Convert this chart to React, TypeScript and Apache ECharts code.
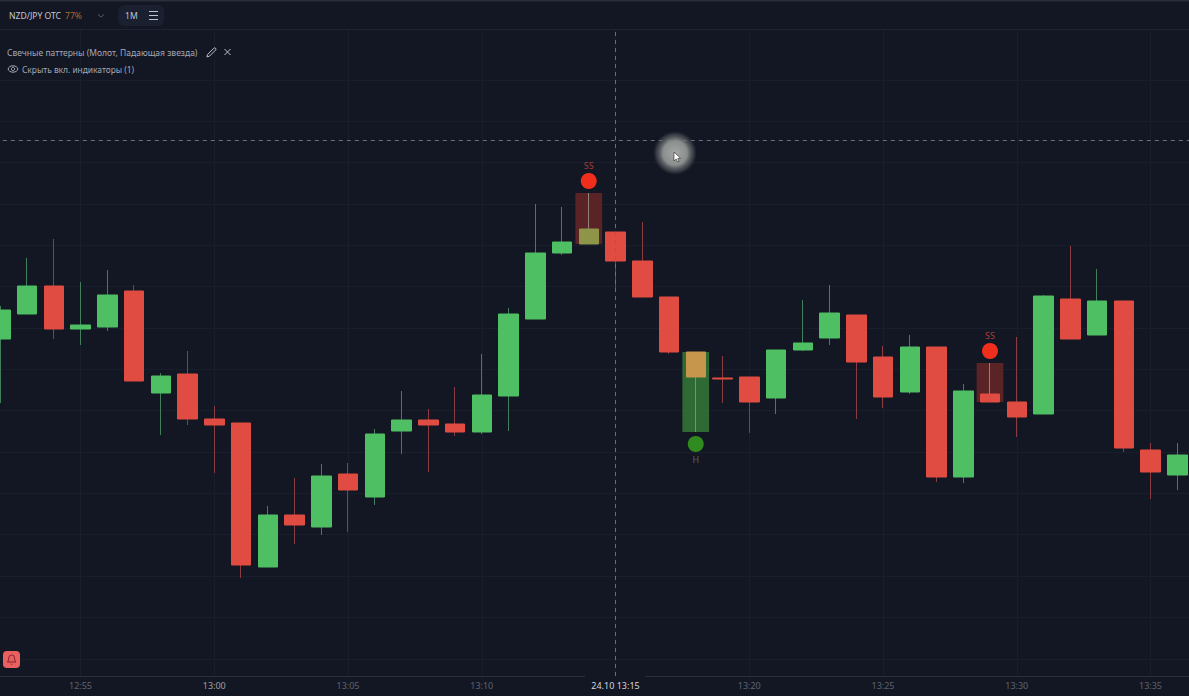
import React, { useEffect, useRef } from "react";
import * as echarts from "echarts";

const startMinute = 772; // 12:52
const opens = [91.661,91.686,91.714,91.671,91.673,91.709,91.607,91.626,91.581,91.577,91.433,91.485,91.473,91.526,91.503,91.569,91.580,91.576,91.568,91.604,91.681,91.747,91.756,91.768,91.739,91.703,91.648,91.622,91.623,91.602,91.650,91.662,91.685,91.643,91.608,91.653,91.523,91.606,91.598,91.586,91.701,91.665,91.699,91.550,91.525];
const closes = [91.690,91.714,91.671,91.675,91.705,91.619,91.624,91.581,91.575,91.435,91.485,91.475,91.524,91.510,91.566,91.580,91.575,91.568,91.605,91.686,91.747,91.758,91.771,91.739,91.703,91.648,91.623,91.621,91.598,91.650,91.657,91.687,91.638,91.603,91.653,91.523,91.609,91.598,91.583,91.704,91.661,91.699,91.552,91.528,91.545];
const lows = [91.597,91.686,91.661,91.655,91.669,91.619,91.565,91.575,91.527,91.422,91.433,91.456,91.465,91.468,91.495,91.546,91.528,91.564,91.566,91.569,91.681,91.745,91.756,91.709,91.703,91.646,91.568,91.597,91.567,91.586,91.649,91.655,91.581,91.592,91.606,91.518,91.517,91.598,91.563,91.586,91.661,91.665,91.548,91.501,91.510];
const highs = [91.694,91.742,91.761,91.718,91.730,91.715,91.627,91.649,91.594,91.577,91.494,91.522,91.536,91.537,91.571,91.609,91.591,91.613,91.646,91.692,91.796,91.793,91.807,91.768,91.778,91.703,91.648,91.644,91.623,91.650,91.700,91.715,91.685,91.654,91.665,91.653,91.616,91.637,91.663,91.705,91.754,91.731,91.699,91.557,91.557];

// pattern candles: minute, top of the highlight, bottom of the highlight, marker price, label
const patternMinutes = [794, 798, 809];
const patternTops = [91.807, 91.648, 91.637];
const patternBottoms = [91.756, 91.568, 91.598];
const patternMarkers = [91.819, 91.556, 91.649];
const patternLabels = ["SS", "H", "SS"];

const crosshairMinute = 795;
const crosshairPrice = 91.8615;

const GREEN = "#4fbf63";
const RED = "#e04c41";
const BG = "#131724";
const GRID = "#191e2d";

const pad = (n: number) => String(n).padStart(2, "0");
const timeLabel = (m: number) => `${pad(Math.floor(m / 60))}:${pad(m % 60)}`;

echarts.graphic.registerShape("bellIcon", echarts.graphic.extendPath("M6 8a6 6 0 0 1 12 0c0 7 3 9 3 9H3s3-2 3-9M10.3 21a1.94 1.94 0 0 0 3.4 0", {}));
echarts.graphic.registerShape("pencilIcon", echarts.graphic.extendPath("M17 3a2.85 2.83 0 1 1 4 4L7.5 20.5 2 22l1.5-5.5Z", {}));
echarts.graphic.registerShape("cursorIcon", echarts.graphic.extendPath("M0 0L0 9L2.2 7L3.6 10L5 9.3L3.7 6.5L6.5 6.3Z", {}));

const txt = (text: string, x: number, y: number, fill: string, size: number, extra: any = {}) => ({
  type: "text",
  x,
  y,
  z: 20,
  style: { text, fill, font: `${size}px "Noto Sans"`, verticalAlign: "middle", ...extra },
});
const seg = (x1: number, y1: number, x2: number, y2: number, stroke: string, lineWidth = 1) => ({
  type: "line",
  z: 20,
  shape: { x1, y1, x2, y2 },
  style: { stroke, lineWidth },
});

export default function App() {
  const ref = useRef<HTMLDivElement>(null);
  useEffect(() => {
    document.body.style.margin = "0";
    document.body.style.background = BG;

    const chart = echarts.init(ref.current!, null, { renderer: "svg", width: 1189, height: 696 });

    const wickData = opens.map((o, i) => {
      const m = startMinute + i;
      const isPattern = patternMinutes.includes(m);
      const v = [m, o, closes[i], lows[i], highs[i]];
      return isPattern
        ? { value: v, itemStyle: { borderColor: "#8f8278", borderColor0: "#8f8278", color: "#8f8278", color0: "#8f8278" } }
        : { value: v };
    });
    const bodyData = opens.map((o, i) => {
      const m = startMinute + i;
      const c = closes[i];
      const v = [m, o, c, Math.min(o, c), Math.max(o, c)];
      if (m === 794) return { value: v, itemStyle: { color: "#8f9548", borderColor: "#8f9548" } };
      if (m === 798) return { value: v, itemStyle: { color0: "#c6964c", borderColor0: "#c6964c" } };
      return { value: v };
    });

    chart.setOption({
      animation: false,
      backgroundColor: BG,
      grid: [
        { left: -53.25, top: 29, width: 1337.5, height: 647, containLabel: false, outerBoundsMode: "none" },
        { left: 0, top: 80, width: 1189, height: 578.75, containLabel: false, outerBoundsMode: "none" },
      ],
      xAxis: [
        {
          type: "value",
          gridIndex: 0,
          min: 770,
          max: 820,
          interval: 5,
          axisLine: { show: false },
          axisTick: { show: false },
          splitLine: { show: true, lineStyle: { color: GRID, width: 1 } },
          axisLabel: {
            margin: 5,
            showMinLabel: false,
            showMaxLabel: false,
            fontFamily: "Noto Sans",
            fontSize: 9,
            color: "#5d6371",
            formatter: (m: number) => {
              if (m === crosshairMinute) return `{now|24.10 ${timeLabel(m)}}`;
              if (m === 780) return `{hour|${timeLabel(m)}}`;
              return timeLabel(m);
            },
            rich: {
              now: { color: "#d3d6dc", fontSize: 9, fontFamily: "Noto Sans" },
              hour: { color: "#9ba0ab", fontSize: 9, fontFamily: "Noto Sans" },
            },
          },
        },
        { type: "value", gridIndex: 1, min: 0, max: 1, show: false },
      ],
      yAxis: [
        {
          type: "value",
          gridIndex: 0,
          min: 91.324,
          max: 91.971,
          show: false,
          splitLine: { show: false },
        },
        {
          type: "value",
          gridIndex: 1,
          min: 0,
          max: 14,
          interval: 1,
          axisLine: { show: false },
          axisTick: { show: false },
          axisLabel: { show: false },
          splitLine: { show: true, lineStyle: { color: GRID, width: 1 } },
        },
      ],
      series: [
        {
          type: "custom",
          name: "patterns",
          xAxisIndex: 0,
          yAxisIndex: 0,
          z: 1,
          silent: true,
          clip: false,
          data: patternMinutes.map((m, i) => [m, patternTops[i], patternBottoms[i], patternLabels[i] === "H" ? 1 : 0]),
          encode: { x: 0, y: [1, 2] },
          renderItem: (_: any, api: any) => {
            const a = api.coord([api.value(0) - 0.5, api.value(1)]);
            const b = api.coord([api.value(0) + 0.5, api.value(2)]);
            return {
              type: "rect",
              shape: { x: a[0], y: a[1], width: b[0] - a[0], height: b[1] - a[1] },
              style: { fill: api.value(3) ? "#2f6a34" : "#5a2325" },
            };
          },
        },
        {
          type: "candlestick",
          name: "wicks",
          xAxisIndex: 0,
          yAxisIndex: 0,
          z: 2,
          barWidth: 1,
          silent: true,
          clip: false,
          itemStyle: { color: "#3f7f5c", color0: "#8c3c40", borderColor: "#3f7f5c", borderColor0: "#8c3c40", borderWidth: 1 },
          data: wickData,
          encode: { x: 0, y: [1, 2, 3, 4] },
          markLine: {
            silent: true,
            symbol: "none",
            label: { show: false },
            lineStyle: { color: "#6a6f7c", type: [4, 4], width: 1 },
            data: [{ xAxis: crosshairMinute }, { yAxis: crosshairPrice }],
          },
        },
        {
          type: "candlestick",
          name: "bodies",
          xAxisIndex: 0,
          yAxisIndex: 0,
          z: 3,
          barWidth: 20,
          silent: true,
          clip: false,
          itemStyle: { color: GREEN, color0: RED, borderColor: GREEN, borderColor0: RED, borderWidth: 1 },
          data: bodyData,
          encode: { x: 0, y: [1, 2, 3, 4] },
        },
        {
          type: "scatter",
          name: "markers",
          xAxisIndex: 0,
          yAxisIndex: 0,
          z: 4,
          silent: true,
          symbol: "circle",
          symbolSize: 16,
          data: patternMinutes.map((m, i) => {
            const isH = patternLabels[i] === "H";
            return {
              value: [m, patternMarkers[i]],
              itemStyle: { color: isH ? "#2f8a1f" : "#ef2f1c", opacity: 1 },
              label: {
                show: true,
                formatter: patternLabels[i],
                position: isH ? "bottom" : "top",
                distance: 3,
                fontSize: 9,
                fontFamily: "Noto Sans",
                color: isH ? "#55695c" : "#a83c38",
              },
            };
          }),
        },
      ],
      graphic: [
        { type: "rect", z: 19, shape: { x: 0, y: 0, width: 1189, height: 1.5 }, style: { fill: "#2a2e3a" } },
        seg(0, 29.5, 1189, 29.5, "#1f2434"),
        seg(0, 676.5, 585, 676.5, "#2a2f3f"),
        seg(645, 676.5, 1189, 676.5, "#2a2f3f"),
        // toolbar
        { type: "rect", z: 19, shape: { x: 118, y: 5, width: 46, height: 21, r: 6 }, style: { fill: "#1a2030" } },
        txt("NZD/JPY OTC", 9, 16, "#c4c8d0", 8.6),
        txt("77%", 65, 16, "#a8662f", 8.6),
        { type: "polyline", z: 20, shape: { points: [[98, 14.5], [101, 17], [104, 14.5]] }, style: { stroke: "#565c6b", fill: "none", lineWidth: 1 } },
        txt("1M", 125, 16, "#bfc3cc", 8.6),
        seg(149, 11.5, 158, 11.5, "#bfc3cc"),
        seg(149, 15.5, 158, 15.5, "#bfc3cc"),
        seg(149, 19.5, 158, 19.5, "#bfc3cc"),
        // indicator notes
        txt("Свечные паттерны (Молот, Падающая звезда)", 7, 52, "#a4a9b3", 8.5),
        { type: "pencilIcon", z: 20, x: 206, y: 47, scaleX: 0.45, scaleY: 0.45, style: { stroke: "#c0c4cc", fill: "none", lineWidth: 2.2 } },
        seg(224.5, 49, 230.5, 55, "#c0c4cc"),
        seg(230.5, 49, 224.5, 55, "#c0c4cc"),
        { type: "ellipse", z: 20, shape: { cx: 13, cy: 69, rx: 4.8, ry: 3.2 }, style: { stroke: "#a4a9b3", fill: "none", lineWidth: 1 } },
        { type: "circle", z: 20, shape: { cx: 13, cy: 69, r: 1.6 }, style: { stroke: "#a4a9b3", fill: "none", lineWidth: 1 } },
        txt("Скрыть вкл. индикаторы (1)", 22, 69, "#a4a9b3", 8.4),
        // bell
        { type: "rect", z: 20, shape: { x: 3, y: 651, width: 17, height: 17, r: 4 }, style: { fill: "#e9615f" } },
        { type: "bellIcon", z: 21, x: 6, y: 654, scaleX: 0.47, scaleY: 0.47, style: { stroke: "#7c1f24", fill: "none", lineWidth: 2 } },
        // pointer highlight
        {
          type: "circle",
          z: 22,
          shape: { cx: 675, cy: 153, r: 22 },
          style: {
            fill: {
              type: "radial",
              x: 0.5,
              y: 0.5,
              r: 0.5,
              colorStops: [
                { offset: 0, color: "#a4a7a5" },
                { offset: 0.55, color: "#8a8e8d" },
                { offset: 0.85, color: "rgba(90,94,98,0.5)" },
                { offset: 1, color: "rgba(60,64,70,0)" },
              ],
            },
          },
        },
        { type: "cursorIcon", z: 23, x: 674, y: 152, style: { fill: "#ffffff", stroke: "#222222", lineWidth: 0.6 } },
      ],
    });
    return () => chart.dispose();
  }, []);
  return <div ref={ref} style={{ position: "fixed", left: 0, top: 0, width: 1189, height: 696 }} />;
}
